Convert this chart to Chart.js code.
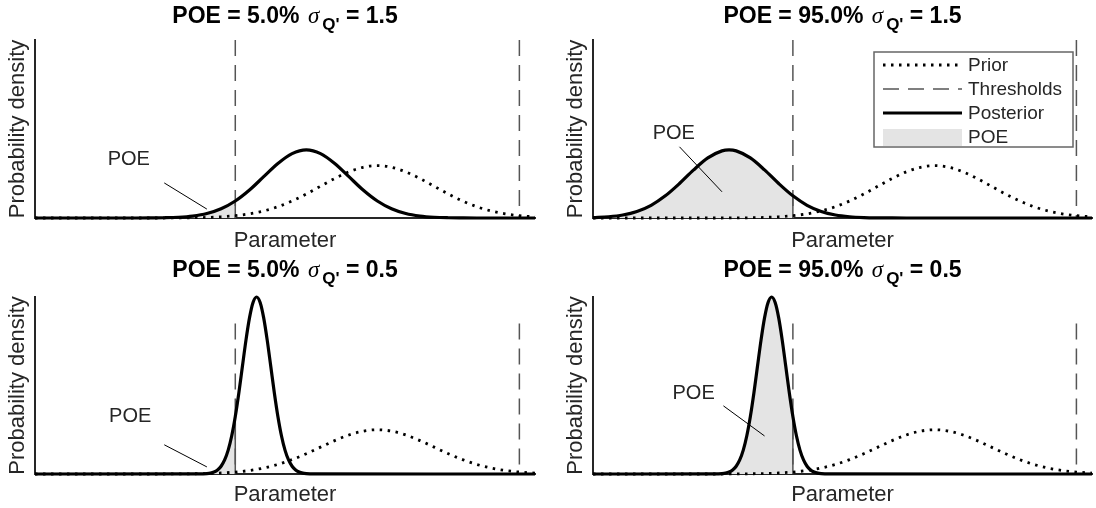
<!DOCTYPE html>
<html>
<head>
    <title>POE posterior panels</title>
    <style>
        body { margin: 0; background: #fff; }
        .grid { position: relative; width: 1096px; height: 508px; }
        .panel { position: absolute; width: 548px; height: 254px; }
        .panel canvas { position: absolute; left: 0; top: 0; }
        .ttl { position: absolute; top: 2px; text-align: center; white-space: nowrap; z-index: 2;
               font: bold 23px/26px "Liberation Sans", Arial, sans-serif; color: #000; }
        .ttl .sig { font-family: "Liberation Serif", "DejaVu Serif", serif; font-style: italic; font-weight: normal;
                    margin-left: 2px; }
        .ttl sub { font-size: 17px; vertical-align: -7px; line-height: 0; margin-left: 3px; }
    </style>
</head>
<body>
<div class="grid">
    <div class="panel" style="left:0;top:0"><div class="ttl" id="t0"></div><canvas id="c0" width="548" height="254"></canvas></div>
    <div class="panel" style="left:548px;top:0"><div class="ttl" id="t1"></div><canvas id="c1" width="548" height="254"></canvas></div>
    <div class="panel" style="left:0;top:254px"><div class="ttl" id="t2"></div><canvas id="c2" width="548" height="254"></canvas></div>
    <div class="panel" style="left:548px;top:254px"><div class="ttl" id="t3"></div><canvas id="c3" width="548" height="254"></canvas></div>
</div>

<script src="https://cdn.jsdelivr.net/npm/chart.js"></script>
<script>
// parameter axis range and thresholds
const xMin = -2.41, xMax = 1.11;
const thresholds = [-1, 1];
const thresholdTop = 3.4;

// prior (same in every panel)
const priorX = [-2.41, -1.6, -1.4, -1.3, -1.2, -1.1, -1.0, -0.9, -0.8, -0.7, -0.6, -0.5, -0.4, -0.3, -0.2, -0.1, 0,
                0.1, 0.2, 0.3, 0.4, 0.5, 0.6, 0.7, 0.8, 0.9, 1.0, 1.11];
const priorY = [0, 0, 0.002, 0.005, 0.011, 0.023, 0.044, 0.080, 0.135, 0.216, 0.325, 0.458, 0.607, 0.755, 0.882, 0.969, 1.0,
                0.969, 0.882, 0.755, 0.607, 0.458, 0.325, 0.216, 0.135, 0.080, 0.044, 0.021];

// posterior, POE 5%, sigma 1.5
const postTLx = [-2.41, -1.8, -1.7, -1.6, -1.5, -1.4, -1.3, -1.2, -1.1, -1.0, -0.9, -0.8, -0.7, -0.6, -0.5, -0.4, -0.3, -0.2,
                 -0.1, 0.0, 0.1, 0.2, 0.3, 0.4, 0.5, 0.6, 0.7, 1.11];
const postTLy = [0, 0, 0.0004, 0.002, 0.005, 0.014, 0.037, 0.085, 0.176, 0.324, 0.534, 0.789, 1.041, 1.230, 1.300, 1.230, 1.041, 0.789,
                 0.534, 0.324, 0.176, 0.085, 0.037, 0.014, 0.005, 0.002, 0.0004, 0];

// posterior, POE 95%, sigma 1.5
const postTRx = [-2.41, -2.3, -2.2, -2.1, -2.0, -1.9, -1.8, -1.7, -1.6, -1.5, -1.45, -1.4, -1.3, -1.2, -1.1, -1.0, -0.9, -0.8,
                 -0.7, -0.6, -0.5, -0.4, -0.3, -0.2, 1.11];
const postTRy = [0.008, 0.024, 0.057, 0.124, 0.242, 0.423, 0.658, 0.919, 1.147, 1.282, 1.300, 1.282, 1.147, 0.919, 0.658, 0.423, 0.242, 0.124,
                 0.057, 0.024, 0.009, 0.003, 0.001, 0, 0];

// posterior, POE 5%, sigma 0.5
const postBLx = [-2.41, -1.25, -1.2, -1.175, -1.15, -1.125, -1.1, -1.075, -1.05, -1.025, -1.0, -0.975, -0.95, -0.925, -0.9, -0.875,
                 -0.85, -0.825, -0.8, -0.775, -0.75, -0.725, -0.7, -0.675, -0.65, -0.625, -0.6, -0.575, -0.55, -0.525, -0.5, -0.45, 1.11];
const postBLy = [0, 0.001, 0.009, 0.020, 0.044, 0.091, 0.176, 0.318, 0.54, 0.864, 1.30, 1.832, 2.428, 3.02, 3.528, 3.876,
                 4.0, 3.876, 3.528, 3.02, 2.428, 1.832, 1.30, 0.864, 0.54, 0.318, 0.176, 0.091, 0.044, 0.020, 0.009, 0.001, 0];

// posterior, POE 95%, sigma 0.5
const postBRx = [-2.41, -1.55, -1.5, -1.475, -1.45, -1.425, -1.4, -1.375, -1.35, -1.325, -1.3, -1.275, -1.25, -1.225, -1.2, -1.175,
                 -1.15, -1.125, -1.1, -1.075, -1.05, -1.025, -1.0, -0.975, -0.95, -0.925, -0.9, -0.875, -0.85, -0.825, -0.8, -0.75, 1.11];
const postBRy = [0, 0.001, 0.009, 0.020, 0.044, 0.091, 0.176, 0.318, 0.54, 0.864, 1.30, 1.832, 2.428, 3.02, 3.528, 3.876,
                 4.0, 3.876, 3.528, 3.02, 2.428, 1.832, 1.30, 0.864, 0.54, 0.318, 0.176, 0.091, 0.044, 0.020, 0.009, 0.001, 0];

const poeLabels = ['5.0%', '95.0%', '5.0%', '95.0%'];
const sigmaLabels = ['1.5', '1.5', '0.5', '0.5'];

const FONT = '"Liberation Sans", Arial, sans-serif';
const INK = '#262626';

const panels = [
    { px: postTLx, py: postTLy, yMax: 3.4, pad: { top: 40, left: 0, right: 13, bottom: 0 }, xh: 36,
      note: { text: [-1.75, 1.11], line: [-1.50, 0.67, -1.20, 0.17] } },
    { px: postTRx, py: postTRy, yMax: 3.4, pad: { top: 40, left: 10, right: 4, bottom: 0 }, xh: 36, legend: true,
      note: { text: [-1.84, 1.62], line: [-1.80, 1.36, -1.50, 0.50] } },
    { px: postBLx, py: postBLy, yMax: 4.0, pad: { top: 43, left: 0, right: 13, bottom: 0 }, xh: 34,
      note: { text: [-1.74, 1.29], line: [-1.50, 0.66, -1.20, 0.16] } },
    { px: postBRx, py: postBRy, yMax: 4.0, pad: { top: 43, left: 10, right: 4, bottom: 0 }, xh: 34,
      note: { text: [-1.70, 1.81], line: [-1.49, 1.54, -1.20, 0.86] } }
];

const pts = (xs, ys) => xs.map((x, i) => ({ x: x, y: ys[i] }));

// "POE" label with its pointer line
const annotate = {
    id: 'annotate',
    afterDatasetsDraw(chart, args, opts) {
        const a = opts.note;
        if (!a) return;
        const { ctx, scales: { x, y } } = chart;
        ctx.save();
        ctx.strokeStyle = '#000';
        ctx.lineWidth = 1;
        ctx.beginPath();
        ctx.moveTo(x.getPixelForValue(a.line[0]), y.getPixelForValue(a.line[1]));
        ctx.lineTo(x.getPixelForValue(a.line[2]), y.getPixelForValue(a.line[3]));
        ctx.stroke();
        ctx.font = '20px ' + FONT;
        ctx.fillStyle = INK;
        ctx.textAlign = 'center';
        ctx.textBaseline = 'middle';
        ctx.fillText('POE', x.getPixelForValue(a.text[0]), y.getPixelForValue(a.text[1]));
        ctx.restore();
    }
};

// boxed legend in the upper right panel
const boxLegend = {
    id: 'boxLegend',
    afterDraw(chart, args, opts) {
        if (!opts.show) return;
        const { ctx, chartArea: ca } = chart;
        const w = 199, h = 95;
        const bx = ca.right - 19 - w, by = ca.top + 12;
        ctx.save();
        ctx.fillStyle = '#fff';
        ctx.fillRect(bx, by, w, h);
        ctx.strokeStyle = '#666';
        ctx.lineWidth = 1.5;
        ctx.strokeRect(bx, by, w, h);
        const find = l => chart.data.datasets.find(d => d.label === l);
        const rows = ['Prior', 'Thresholds', 'Posterior', 'POE'];
        ctx.font = '19px ' + FONT;
        ctx.textBaseline = 'middle';
        rows.forEach((l, i) => {
            const d = find(l);
            const yy = by + 13 + i * 24;
            if (l === 'POE') {
                ctx.fillStyle = d.backgroundColor;
                ctx.fillRect(bx + 9, yy - 8, 79, 17);
            } else {
                ctx.strokeStyle = d.borderColor;
                ctx.lineWidth = d.borderWidth;
                ctx.setLineDash(d.borderDash || []);
                ctx.beginPath();
                ctx.moveTo(bx + 9, yy);
                ctx.lineTo(bx + 88, yy);
                ctx.stroke();
                ctx.setLineDash([]);
            }
            ctx.fillStyle = INK;
            ctx.fillText(l, bx + 94, yy + 1);
        });
        ctx.restore();
    }
};

panels.forEach((p, i) => {
    const post = pts(p.px, p.py);
    const poe = post.filter(q => q.x <= thresholds[0]);
    const edgeY = poe[poe.length - 1].y;
    const chart = new Chart(document.getElementById('c' + i), {
        type: 'line',
        data: {
            datasets: [
                { label: 'POE', data: poe, fill: 'origin', backgroundColor: '#e4e4e4', borderWidth: 0,
                  pointRadius: 0, cubicInterpolationMode: 'monotone', order: 6 },
                { label: 'edge', data: [{ x: thresholds[0], y: 0 }, { x: thresholds[0], y: edgeY }],
                  borderColor: '#555', borderWidth: 1.5, pointRadius: 0, fill: false, order: 5 },
                { label: 'Thresholds', data: [{ x: thresholds[0], y: thresholdTop }, { x: thresholds[0], y: 0 }],
                  borderColor: '#555', borderWidth: 1.5, borderDash: [16, 9], pointRadius: 0, fill: false, order: 4 },
                { label: 'upper', data: [{ x: thresholds[1], y: thresholdTop }, { x: thresholds[1], y: 0 }],
                  borderColor: '#555', borderWidth: 1.5, borderDash: [16, 9], pointRadius: 0, fill: false, order: 3 },
                { label: 'Posterior', data: post, borderColor: '#000', borderWidth: 3.2, pointRadius: 0, fill: false,
                  cubicInterpolationMode: 'monotone', clip: 6, order: 2 },
                { label: 'Prior', data: pts(priorX, priorY), borderColor: '#000', borderWidth: 2.8, borderDash: [2.5, 5.5],
                  pointRadius: 0, fill: false, cubicInterpolationMode: 'monotone', clip: 6, order: 1 }
            ]
        },
        options: {
            responsive: false,
            animation: false,
            devicePixelRatio: 1,
            layout: { padding: p.pad },
            plugins: {
                legend: { display: false },
                tooltip: { enabled: false },
                annotate: { note: p.note },
                boxLegend: { show: !!p.legend }
            },
            scales: {
                x: {
                    type: 'linear', min: xMin, max: xMax,
                    ticks: { display: false },
                    grid: { display: false },
                    border: { color: INK, width: 2 },
                    title: { display: true, text: 'Parameter', color: INK, font: { size: 22, family: FONT }, padding: 0 },
                    afterFit: s => { s.height = p.xh; }
                },
                y: {
                    min: 0, max: p.yMax,
                    ticks: { display: false },
                    grid: { display: false },
                    border: { color: INK, width: 2 },
                    title: { display: true, text: 'Probability density', color: INK, font: { size: 22, family: FONT },
                             padding: { top: 5, bottom: 0 } },
                    afterFit: s => { s.width = 35; }
                }
            }
        },
        plugins: [annotate, boxLegend]
    });

    const t = document.getElementById('t' + i);
    t.innerHTML = 'POE = ' + poeLabels[i] + ' <span class="sig">&sigma;</span><sub>Q\'</sub> = ' + sigmaLabels[i];
    t.style.left = chart.chartArea.left + 'px';
    t.style.width = (chart.chartArea.right - chart.chartArea.left) + 'px';
});
</script>
</body>
</html>
